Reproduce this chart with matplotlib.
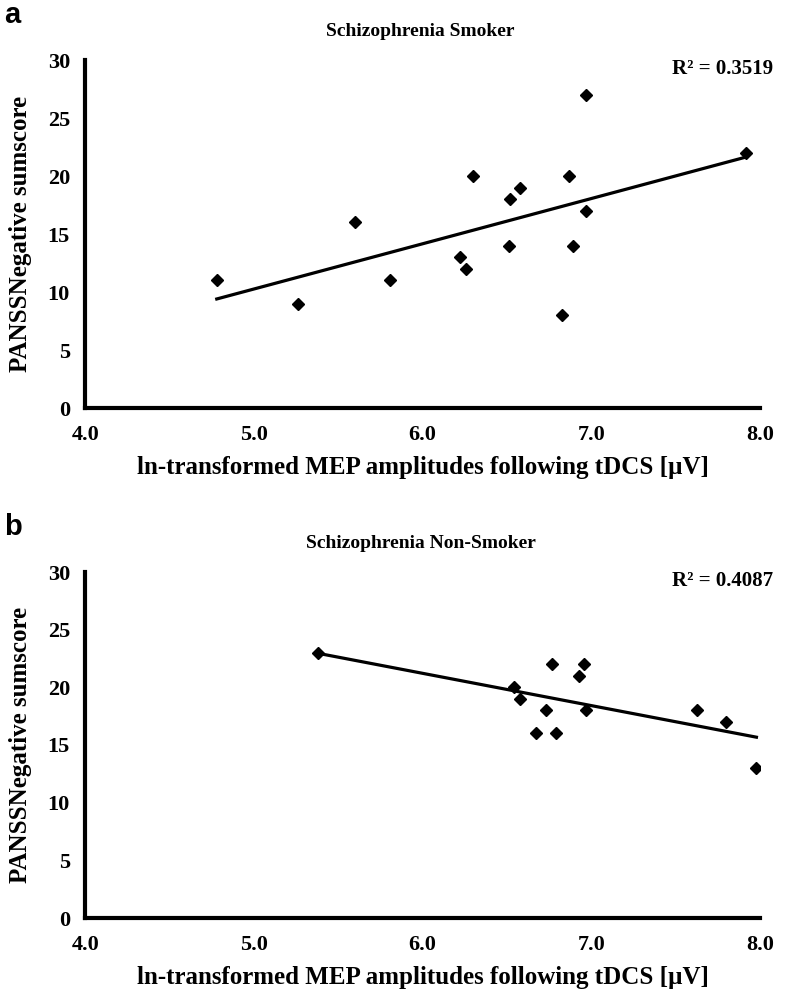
import numpy as np
import matplotlib
matplotlib.use("Agg")
import matplotlib.pyplot as plt

# panel a: smokers
smoker_mep = [4.78, 5.26, 5.60, 5.81, 6.22, 6.26, 6.30, 6.52, 6.51, 6.58,
              6.87, 6.89, 6.83, 6.97, 6.97, 7.92]
smoker_panss = [11, 9, 16, 11, 13, 12, 20, 18, 14, 19, 20, 14, 8, 17, 27, 22]
smoker_r2 = "R² = 0.3519"

# panel b: non-smokers
nonsmoker_mep = [5.38, 6.54, 6.58, 6.67, 6.73, 6.77, 6.79, 6.93, 6.96, 6.97,
                 7.63, 7.80, 7.98]
nonsmoker_panss = [23, 20, 19, 16, 18, 22, 16, 21, 22, 18, 18, 17, 13]
nonsmoker_r2 = "R² = 0.4087"

x_ticks = [4.0, 5.0, 6.0, 7.0, 8.0]
y_ticks = [0, 5, 10, 15, 20, 25, 30]
xlabel = "ln-transformed MEP amplitudes following tDCS [µV]"
ylabel = "PANSSNegative sumscore"

plt.rcParams["font.family"] = ["Liberation Serif", "DejaVu Serif"]
plt.rcParams["font.weight"] = "bold"

fig = plt.figure(figsize=(7.89, 10), dpi=100)


def draw_panel(rect, xs, ys, title, r2, letter, top_px):
    ax = fig.add_axes(rect)
    ax.plot(xs, ys, "D", color="black", ms=6, zorder=3)
    slope, icpt = np.polyfit(xs, ys, 1)
    xl = np.array([min(xs), max(xs)])
    ax.plot(xl, slope * xl + icpt, color="black", lw=2.3, zorder=2)

    ax.set_xlim(4.0, 8.0)
    ax.set_ylim(0, 30)
    ax.set_xticks(x_ticks)
    ax.set_xticklabels(["%.1f" % t for t in x_ticks])
    ax.set_yticks(y_ticks)
    for s in ["top", "right"]:
        ax.spines[s].set_visible(False)
    for s in ["left", "bottom"]:
        ax.spines[s].set_linewidth(3)
    ax.tick_params(axis="both", length=0, labelsize=16)
    ax.tick_params(axis="y", pad=11)
    ax.tick_params(axis="x", pad=12)
    for lab in ax.get_xticklabels() + ax.get_yticklabels():
        lab.set_fontweight("bold")
    ax.set_xlabel(xlabel, fontsize=18, fontweight="bold", labelpad=8)
    ax.set_ylabel(ylabel, fontsize=18, fontweight="bold", labelpad=11)

    fig.text(0.533, 1 - (top_px - 29) / 1000, title, ha="center", va="center",
             fontsize=14, fontweight="bold")
    fig.text(0.98, 1 - (top_px + 9) / 1000, r2, ha="right", va="center",
             fontsize=15, fontweight="bold")
    fig.text(0.005, 1 - (top_px - 45) / 1000, letter, ha="left", va="center",
             fontsize=21, fontweight="bold", family="Liberation Sans")
    return ax


draw_panel([0.108, 0.592, 0.855, 0.348], smoker_mep, smoker_panss,
           "Schizophrenia Smoker", smoker_r2, "a", 60)
draw_panel([0.108, 0.082, 0.855, 0.346], nonsmoker_mep, nonsmoker_panss,
           "Schizophrenia Non-Smoker", nonsmoker_r2, "b", 572)

fig.savefig("out.png", dpi=100)
